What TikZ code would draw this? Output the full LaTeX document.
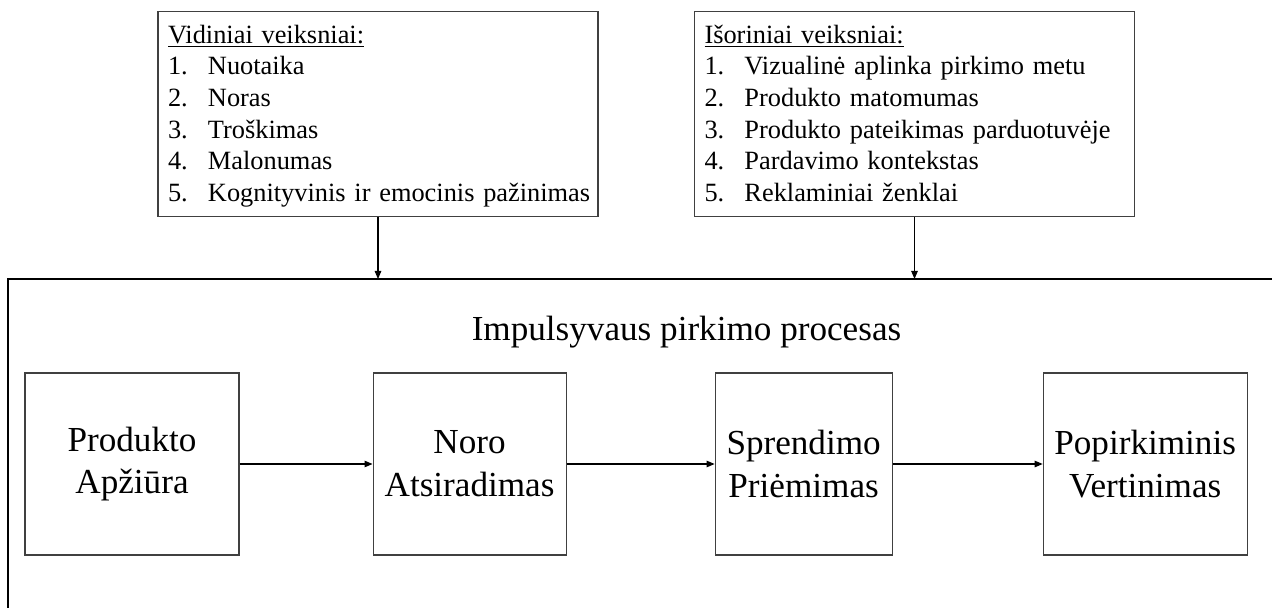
\documentclass[tikz,border=0pt]{standalone}
\usepackage{fontspec}
\setmainfont{Liberation Serif}
\usetikzlibrary{positioning,arrows.meta}

\newcommand{\topstrut}{\rule{0pt}{15pt}}
\newcommand{\botstrut}{\rule[-5.5pt]{0pt}{5.5pt}}

\begin{document}
\begin{tikzpicture}[
    factors/.style={rectangle, draw=black!75, line width=0.6pt, minimum width=8.8cm, minimum height=4.04cm, inner xsep=0.2cm, text width=8.4cm, align=left, font=\fontsize{15}{18}\selectfont},
    stage/.style={rectangle, draw=black!75, line width=0.6pt, minimum height=3.64cm, inner sep=2pt, align=center, font=\fontsize{20}{24.4}\selectfont},
    arrow/.style={-{Triangle[length=1.6mm,width=1.3mm]}, line width=0.6pt},
    frame/.style={line width=1pt}
]
\useasboundingbox (0,0) rectangle (25.44,-12.16);
\clip (0,0) rectangle (25.44,-12.16);

\node[factors] (vid) at (7.56,-2.28) {\topstrut\underline{Vidiniai veiksniai:}\\\makebox[0.8cm][l]{1.}Nuotaika\\\makebox[0.8cm][l]{2.}Noras\\\makebox[0.8cm][l]{3.}Troškimas\\\makebox[0.8cm][l]{4.}Malonumas\\\mbox{\makebox[0.8cm][l]{5.}Kognityvinis ir emocinis pažinimas}\botstrut};
\node[factors] (isor) at (18.29,-2.28) {\topstrut\underline{Išoriniai veiksniai:}\\\makebox[0.8cm][l]{1.}Vizualinė aplinka pirkimo metu\\\makebox[0.8cm][l]{2.}Produkto matomumas\\\makebox[0.8cm][l]{3.}Produkto pateikimas parduotuvėje\\\makebox[0.8cm][l]{4.}Pardavimo kontekstas\\\makebox[0.8cm][l]{5.}Reklaminiai ženklai\botstrut};

\coordinate (frametop) at (0.16,-5.58);
\draw[frame] (26,-5.58) -- (frametop) -- (0.16,-13);
\draw[arrow] (vid.south) -- (vid.south |- frametop);
\draw[arrow] (isor.south) -- (isor.south |- frametop);

\node[anchor=base, font=\fontsize{20}{24}\selectfont] (title) at (13.73,-6.8) {Impulsyvaus pirkimo procesas};

\node[stage, minimum width=4.28cm] (apziura) at (2.64,-9.28) {Produkto\\Apžiūra};
\node[stage, minimum width=3.86cm, right=2.66cm of apziura] (noras) {Noro\\Atsiradimas};
\node[stage, minimum width=3.54cm, right=2.96cm of noras] (sprendimas) {Sprendimo\\Priėmimas};
\node[stage, minimum width=4.08cm, right=3cm of sprendimas] (vertinimas) {Popirkiminis\\Vertinimas};
\draw[arrow] (apziura.east) -- (noras.west);
\draw[arrow] (noras.east) -- (sprendimas.west);
\draw[arrow] (sprendimas.east) -- (vertinimas.west);

\end{tikzpicture}
\end{document}
